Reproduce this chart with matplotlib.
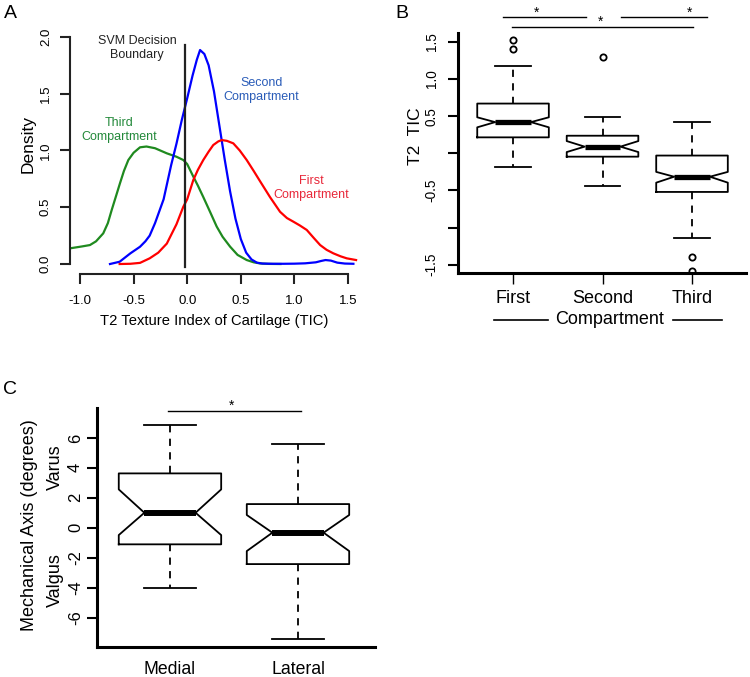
import matplotlib
matplotlib.use("Agg")
import matplotlib.pyplot as plt
from matplotlib.lines import Line2D

plt.rcParams['font.family'] = ['Liberation Sans', 'DejaVu Sans']

# ---------------- Panel A : density curves ----------------
third_x = [-1.08, -0.98, -0.907, -0.85, -0.783, -0.74, -0.704, -0.66, -0.627, -0.59, -0.549, -0.5,
           -0.44, -0.38, -0.3, -0.19, -0.1, -0.036, 0.0, 0.057, 0.1, 0.15, 0.213, 0.275, 0.33,
           0.4, 0.47, 0.555, 0.62, 0.68, 0.76, 0.87]
third_y = [0.14, 0.155, 0.167, 0.2, 0.27, 0.36, 0.476, 0.61, 0.711, 0.82, 0.916, 0.98,
           1.028, 1.035, 1.02, 0.975, 0.945, 0.916, 0.88, 0.77, 0.69, 0.59, 0.46, 0.33, 0.24,
           0.153, 0.08, 0.035, 0.015, 0.005, 0.001, 0.0]

second_x = [-0.72, -0.63, -0.53, -0.44, -0.39, -0.35, -0.3, -0.22, -0.15, -0.1, -0.05, 0.0, 0.05,
            0.09, 0.12, 0.16, 0.2, 0.25, 0.3, 0.35, 0.4, 0.45, 0.5, 0.55, 0.6, 0.65, 0.7,
            0.8, 0.9, 1.0, 1.1, 1.2, 1.25, 1.29, 1.34, 1.4, 1.47, 1.55]
second_y = [0.0, 0.02, 0.094, 0.152, 0.2, 0.25, 0.36, 0.57, 0.87, 1.06, 1.27, 1.46, 1.66,
            1.8, 1.885, 1.85, 1.75, 1.52, 1.22, 0.92, 0.64, 0.40, 0.22, 0.10, 0.04, 0.012, 0.004,
            0.002, 0.002, 0.003, 0.006, 0.015, 0.027, 0.035, 0.03, 0.012, 0.004, 0.002]

first_x = [-0.63, -0.53, -0.44, -0.35, -0.27, -0.19, -0.1, -0.036, 0.0, 0.057, 0.1, 0.15, 0.2,
           0.243, 0.29, 0.322, 0.37, 0.43, 0.49, 0.555, 0.62, 0.679, 0.772, 0.866, 0.93,
           0.99, 1.05, 1.115, 1.18, 1.24, 1.3, 1.363, 1.43, 1.488, 1.575]
first_y = [0.0, 0.002, 0.01, 0.05, 0.1, 0.18, 0.35, 0.505, 0.57, 0.74, 0.83, 0.916, 0.99,
           1.048, 1.08, 1.092, 1.085, 1.063, 1.0, 0.916, 0.82, 0.73, 0.59, 0.46, 0.405,
           0.373, 0.34, 0.30, 0.23, 0.167, 0.125, 0.094, 0.068, 0.05, 0.035]

svm_boundary = -0.02

# ---------------- Panel B : T2 TIC by compartment ----------------
comp_labels = ['First', 'Second', 'Third']
comp_q1 = [0.215, -0.045, -0.52]
comp_med = [0.42, 0.09, -0.315]
comp_q3 = [0.67, 0.237, -0.03]
comp_cilo = [0.35, 0.017, -0.395]
comp_cihi = [0.485, 0.165, -0.25]
comp_whislo = [-0.19, -0.44, -1.145]
comp_whishi = [1.18, 0.49, 0.417]
comp_fliers = [[1.52, 1.40], [1.30], [-1.40, -1.59]]

# ---------------- Panel C : mechanical axis ----------------
side_labels = ['Medial', 'Lateral']
side_q1 = [-1.11, -2.43]
side_med = [1.0, -0.33]
side_q3 = [3.63, 1.58]
side_cilo = [-0.49, -1.56]
side_cihi = [2.56, 0.85]
side_whislo = [-4.0, -7.41]
side_whishi = [6.86, 5.59]

W, H = 750, 677
fig = plt.figure(figsize=(W / 100, H / 100), dpi=100)


def px_axes(left, top, right, bottom):
    return fig.add_axes([left / W, 1 - bottom / H, (right - left) / W, (bottom - top) / H])


def ftext(x, y, s, **kw):
    fig.text(x / W, 1 - y / H, s, **kw)


# ===== Panel A =====
axA = px_axes(70, 31.3, 360.9, 274)
axA.set_xlim(-1.093, 1.62)
axA.set_ylim(-0.088, 2.05)
axA.plot(third_x, third_y, color='#1f8a1f', lw=1.6)
axA.plot(second_x, second_y, color='#0000ff', lw=1.6)
axA.plot(first_x, first_y, color='#ff0000', lw=1.6)
axA.plot([svm_boundary, svm_boundary], [-0.03, 1.93], color='#222222', lw=1.6)
for s in ['top', 'right']:
    axA.spines[s].set_visible(False)
axA.spines['left'].set_bounds(0, 2)
axA.spines['bottom'].set_bounds(-1, 1.5)
for s in ['left', 'bottom']:
    axA.spines[s].set_linewidth(1.5)
    axA.spines[s].set_color('#222222')
axA.set_xticks([-1.0, -0.5, 0.0, 0.5, 1.0, 1.5])
axA.set_xticklabels(['-1.0', '-0.5', '0.0', '0.5', '1.0', '1.5'])
axA.set_yticks([0.0, 0.5, 1.0, 1.5, 2.0])
axA.set_yticklabels(['0.0', '0.5', '1.0', '1.5', '2.0'], rotation=90, va='center')
axA.tick_params(axis='x', length=7, width=1.5, pad=8, labelsize=9.5, color='#222222')
axA.tick_params(axis='y', length=7, width=1.5, pad=6, labelsize=9.5, color='#222222')
axA.text(-0.468, 1.90, 'SVM Decision\nBoundary', ha='center', va='center', fontsize=9,
         color='#222222', linespacing=1.2)
axA.text(0.695, 1.536, 'Second\nCompartment', ha='center', va='center', fontsize=9,
         color='#2a5cb8', linespacing=1.2)
axA.text(-0.636, 1.179, 'Third\nCompartment', ha='center', va='center', fontsize=9,
         color='#23893a', linespacing=1.2)
axA.text(1.16, 0.668, 'First\nCompartment', ha='center', va='center', fontsize=9,
         color='#e8283a', linespacing=1.2)
ftext(28, 144, 'Density', rotation=90, ha='center', va='center', fontsize=12.5)
ftext(213.8, 320.7, 'T2 Texture Index of Cartilage (TIC)', ha='center', va='center', fontsize=10.6)
ftext(10.5, 13.5, 'A', ha='center', va='center', fontsize=14)

# ===== Panel B =====
axB = px_axes(458, 33, 745.7, 272.9)
axB.set_xlim(0.385, 3.6)
axB.set_ylim(-1.61, 1.62)
statsB = []
for i in range(3):
    statsB.append(dict(med=comp_med[i], q1=comp_q1[i], q3=comp_q3[i],
                       cilo=comp_cilo[i], cihi=comp_cihi[i],
                       whislo=comp_whislo[i], whishi=comp_whishi[i],
                       fliers=comp_fliers[i], label=comp_labels[i]))
boxkw = dict(shownotches=True, widths=0.8, patch_artist=False,
             boxprops=dict(color='black', lw=1.3),
             whiskerprops=dict(color='black', lw=1.3, linestyle=(0, (4, 3.5))),
             capprops=dict(color='black', lw=1.3),
             medianprops=dict(color='black', lw=3.8, solid_capstyle='butt'),
             flierprops=dict(marker='o', markersize=4.5, markerfacecolor='none',
                             markeredgecolor='black', markeredgewidth=1.3))
axB.bxp(statsB, positions=[1, 2, 3], **boxkw)
for s in ['top', 'right']:
    axB.spines[s].set_visible(False)
for s in ['left', 'bottom']:
    axB.spines[s].set_linewidth(2.2)
axB.set_yticks([-1.5, -1.0, -0.5, 0.0, 0.5, 1.0, 1.5])
axB.set_yticklabels(['-1.5', '', '-0.5', '', '0.5', '1.0', '1.5'], rotation=90, va='center')
axB.set_xticks([1, 2, 3])
axB.set_xticklabels(comp_labels)
axB.tick_params(axis='y', length=7, width=1.5, pad=7, labelsize=9.8)
axB.tick_params(axis='x', length=8, width=1.0, pad=4, labelsize=13)
# significance bars
sig_bars = [(0.888, 1.816, 1.83, 1.257), (2.207, 3.168, 1.83, 2.967), (0.989, 3.011, 1.704, 1.983)]
for x0, x1, y, xs in sig_bars:
    axB.plot([x0, x1], [y, y], color='black', lw=1.0, clip_on=False)
    axB.text(xs, y + 0.01, '*', ha='center', va='baseline', fontsize=10, clip_on=False)
ftext(415.5, 135.8, 'T2  TIC', rotation=90, ha='center', va='center', fontsize=12.5)
ftext(610, 320, 'Compartment', ha='center', va='center', fontsize=13)
fig.add_artist(Line2D([494 / W, 548 / W], [1 - 320 / H, 1 - 320 / H], color='black', lw=1.2))
fig.add_artist(Line2D([673 / W, 722 / W], [1 - 320 / H, 1 - 320 / H], color='black', lw=1.2))
ftext(401.5, 13.3, 'B', ha='center', va='center', fontsize=14)

# ===== Panel C =====
axC = px_axes(97, 408, 374.8, 647)
axC.set_xlim(0.43, 2.6)
axC.set_ylim(-7.97, 8.0)
statsC = []
for i in range(2):
    statsC.append(dict(med=side_med[i], q1=side_q1[i], q3=side_q3[i],
                       cilo=side_cilo[i], cihi=side_cihi[i],
                       whislo=side_whislo[i], whishi=side_whishi[i],
                       fliers=[], label=side_labels[i]))
boxkw['medianprops'] = dict(color='black', lw=4.3, solid_capstyle='butt')
axC.bxp(statsC, positions=[1, 2], **boxkw)
for s in ['top', 'right']:
    axC.spines[s].set_visible(False)
for s in ['left', 'bottom']:
    axC.spines[s].set_linewidth(2.2)
axC.set_yticks([-6, -4, -2, 0, 2, 4, 6])
axC.set_yticklabels(['-6', '-4', '-2', '0', '2', '4', '6'], rotation=90, va='center')
axC.set_xticks([1, 2])
axC.set_xticklabels(side_labels)
axC.tick_params(axis='y', length=7, width=1.5, pad=3, labelsize=12)
axC.tick_params(axis='x', length=0, pad=10, labelsize=12.7)
axC.plot([0.984, 2.023], [7.8, 7.8], color='black', lw=1.0, clip_on=False)
axC.text(1.484, 7.85, '*', ha='center', va='baseline', fontsize=10, clip_on=False)
ftext(30, 525, 'Mechanical Axis (degrees)', rotation=90, ha='center', va='center', fontsize=13)
ftext(55, 466.7, 'Varus', rotation=90, ha='center', va='center', fontsize=13)
ftext(55, 580, 'Valgus', rotation=90, ha='center', va='center', fontsize=13)
ftext(10.5, 390, 'C', ha='center', va='center', fontsize=14)

fig.savefig('out.png', dpi=100)
